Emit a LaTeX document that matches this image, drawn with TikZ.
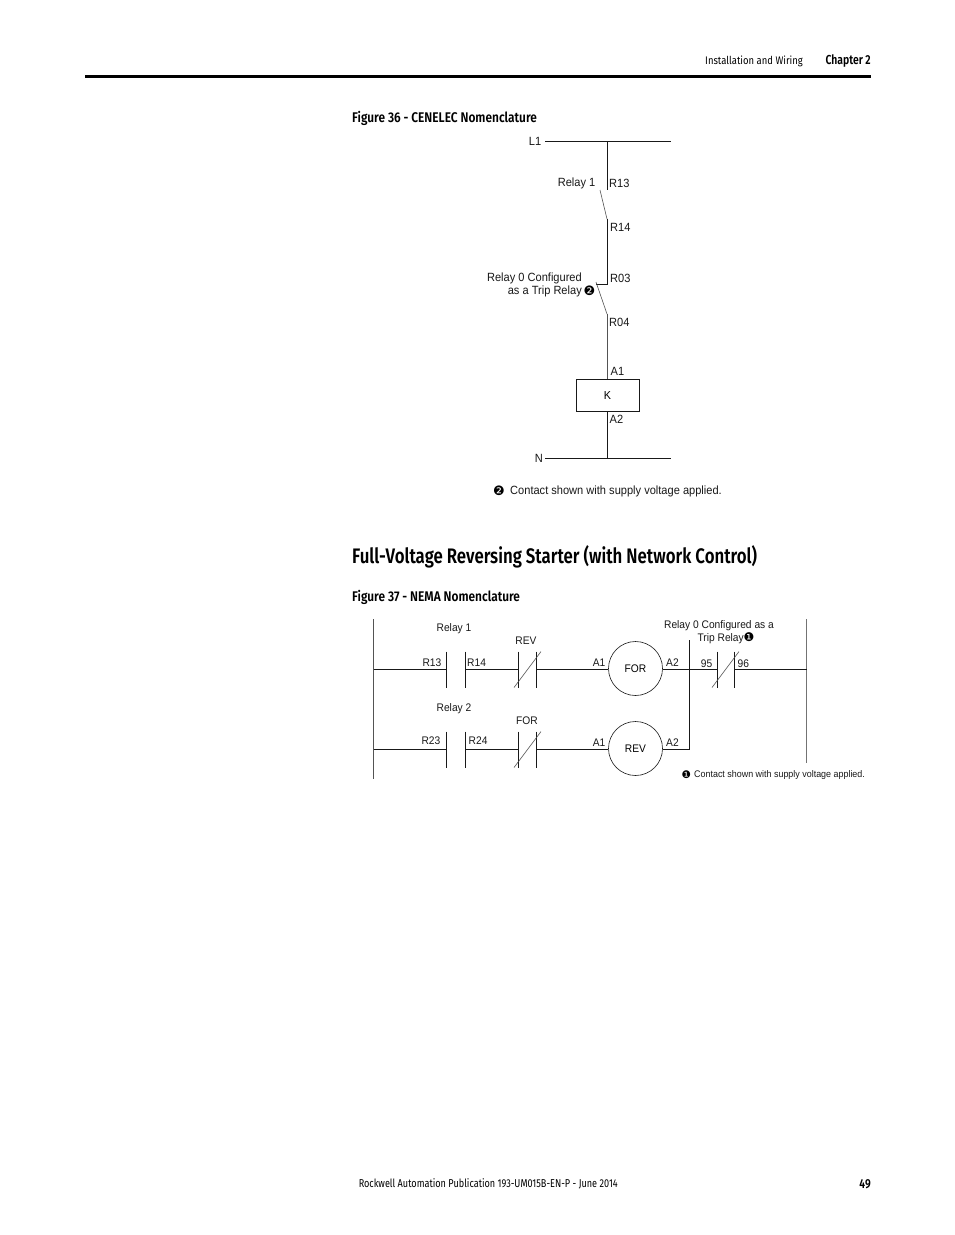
\documentclass[tikz,border=0pt]{standalone}
\usepackage{fontspec}
\setmainfont{Liberation Sans}
\newfontfamily\diagf[FakeStretch=0.93]{Liberation Sans}
\newfontfamily\headf[FakeStretch=0.86]{Fira Sans}
\newfontfamily\footf[FakeStretch=0.8]{Fira Sans}
\newfontfamily\headb[FakeStretch=0.8]{Fira Sans}[BoldFont={Fira Sans SemiBold}]
\newfontfamily\headc[FakeStretch=0.85]{Fira Sans}[BoldFont={Fira Sans SemiBold}]
\newfontfamily\symf{DejaVu Sans}
\definecolor{wire}{gray}{0.1}
\tikzset{
  x=1pt,y=-1pt,
  wireline/.style={draw=wire,line width=0.8pt},
  thinline/.style={draw=wire!75,line width=0.6pt},
  lab/.style={inner sep=0pt,font=\diagf\fontsize{11.9}{13}\selectfont,text=black!90},
  smalllab/.style={inner sep=0pt,font=\diagf\fontsize{11}{12}\selectfont,text=black!90},
  hdr/.style={inner sep=0pt,font=\headf\fontsize{11}{13}\selectfont,text=black},
  ftr/.style={inner sep=0pt,font=\footf\fontsize{11.4}{13}\selectfont,text=black},
  hdrb/.style={inner sep=0pt,font=\headb\fontsize{13}{15}\selectfont\bfseries,text=black},
  figt/.style={inner sep=0pt,font=\headc\fontsize{14}{16}\selectfont\bfseries,text=black},
  sect/.style={inner sep=0pt,font=\headb\fontsize{21}{24}\selectfont\bfseries,text=black},
  coil/.style={circle,draw=wire,line width=0.6pt,minimum size=54pt,inner sep=0pt,font=\diagf\fontsize{11}{13}\selectfont},
  kbox/.style={rectangle,draw=wire,line width=0.8pt,minimum width=63pt,minimum height=32pt,inner sep=0pt,font=\diagf\fontsize{11.6}{13}\selectfont},
  bigdot/.style={inner sep=0pt,font=\symf\fontsize{13}{14}\selectfont},
  middot/.style={inner sep=0pt,font=\symf\fontsize{12}{13}\selectfont},
  smdot/.style={inner sep=0pt,font=\symf\fontsize{10.5}{12}\selectfont}
}
\begin{document}
\begin{tikzpicture}
\useasboundingbox (0,0) rectangle (954,1235);
\fill[white] (0,0) rectangle (954,1235);
% page furniture
\coordinate (hl) at (85,76.5); \coordinate (hr) at (871,76.5);
\draw[black,line width=3pt] (hl) -- (hr);
\node[hdr,anchor=east] (h1) at (803,61) {Installation and Wiring};
\node[hdrb,anchor=east] (h2) at (871,61) {Chapter 2};
\node[ftr,anchor=east] (f1) at (618,1184) {Rockwell Automation Publication 193-UM015B-EN-P - June 2014};
\node[hdrb,anchor=east] (f2) at (871,1184) {49};
\node[figt,anchor=west] (t36) at (352,118) {Figure 36 - CENELEC Nomenclature};
\node[figt,anchor=west] (t37) at (352,597) {Figure 37 - NEMA Nomenclature};
\node[sect,anchor=west] (sec) at (352,557) {Full-Voltage Reversing Starter (with Network Control)};

% Figure 36
\coordinate (l1a) at (545,141); \coordinate (l1b) at (671,141); \coordinate (l1j) at (607,141);
\coordinate (r13) at (607,190); \coordinate (s1a) at (600,190); \coordinate (r14) at (607,219);
\coordinate (r03) at (607,284.5); \coordinate (r03b) at (596,284.5);
\coordinate (s0a) at (596,282); \coordinate (r04) at (607,314);
\node[kbox] (k) at (607.5,395.5) {K};
\coordinate (na) at (545,458.5); \coordinate (nb) at (671,458.5); \coordinate (nj) at (607,458.5);
\draw[wireline] (l1a) -- (l1b);
\draw[wireline] (l1j) -- (r13);
\draw[thinline] (s1a) -- (r14);
\draw[wireline] (r14) -- (r03) -- (r03b);
\draw[thinline] (s0a) -- (r04);
\draw[thinline] (r04) -- (r04 |- k.north);
\draw[wireline] (nj |- k.south) -- (nj);
\draw[wireline] (na) -- (nb);
\node[lab,anchor=east] (tl1) at (541.5,141.5) {L1};
\node[lab,anchor=east] (tn) at (543,458.5) {N};
\node[lab,anchor=east] (trel1) at (595.5,183.5) {Relay 1};
\node[lab,anchor=west] (tr13) at (609,183.5) {R13};
\node[lab,anchor=west] (tr14) at (610,227.5) {R14};
\node[lab,anchor=west] (tr03) at (610,278.5) {R03};
\node[lab,anchor=west] (tr04) at (609,322.5) {R04};
\node[lab,anchor=west] (ta1) at (610.5,371) {A1};
\node[lab,anchor=west] (ta2) at (609.5,419.5) {A2};
\node[lab,anchor=east] (trel0a) at (582,278.5) {Relay 0 Configured};
\node[lab,anchor=east] (trel0b) at (582,291.5) {as a Trip Relay};
\node[bigdot,anchor=west] (c2a) at (583.5,290.5) {❷};
\node[bigdot,anchor=west] (c2b) at (493,491) {❷};
\node[lab,anchor=west] (note36) at (510,491.5) {Contact shown with supply voltage applied.};

% Figure 37
\coordinate (ltop) at (373.5,619); \coordinate (lbot) at (373.5,779);
\coordinate (rtop) at (806.5,619); \coordinate (rbot) at (806.5,763);
\draw[thinline] (ltop) -- (lbot);
\draw[draw=black!55,line width=0.9pt] (rtop) -- (rbot);
\node[coil] (for) at (635.5,668.5) {FOR};
\node[coil] (rev) at (635.5,748.5) {REV};
% rung 1
\coordinate (r1l) at (373.5,669.5); \coordinate (c1a) at (446.5,669.5); \coordinate (c1b) at (465,669.5);
\coordinate (c2x) at (518,669.5); \coordinate (c2y) at (536.5,669.5);
\coordinate (j1) at (689.5,669.5); \coordinate (c3a) at (717,669.5); \coordinate (c3b) at (734,669.5); \coordinate (r1r) at (806.5,669.5);
% rung 2
\coordinate (r2l) at (373.5,749.5); \coordinate (d1a) at (446.5,749.5); \coordinate (d1b) at (465,749.5);
\coordinate (d2x) at (518,749.5); \coordinate (d2y) at (536.5,749.5);
\coordinate (j2) at (689.5,749.5); \coordinate (jtop) at (689.5,640);
\foreach \p in {c1a,c1b,c2x,c2y,c3a,c3b}{\draw[wireline] ([yshift=18pt]\p) -- ([yshift=-18pt]\p);}
\foreach \p in {d1a,d1b,d2x,d2y}{\draw[wireline] ([yshift=18pt]\p) -- ([yshift=-18pt]\p);}
\draw[wireline] (r1l) -- (c1a);
\draw[wireline] (c1b) -- (c2x);
\draw[wireline] (c2y) -- (for.west |- c2y);
\draw[wireline] (for.east |- j1) -- (j1) -- (c3a);
\draw[wireline] (c3b) -- (r1r);
\draw[wireline] (r2l) -- (d1a);
\draw[wireline] (d1b) -- (d2x);
\draw[wireline] (d2y) -- (rev.west |- d2y);
\draw[wireline] (rev.east |- j2) -- (j2) -- (jtop);
\draw[thinline] ([xshift=-4pt,yshift=-18pt]c2x) -- ([xshift=4.5pt,yshift=18pt]c2y);
\draw[thinline] ([xshift=-4pt,yshift=-18pt]d2x) -- ([xshift=4.5pt,yshift=18pt]d2y);
\draw[thinline] ([xshift=-5pt,yshift=-18pt]c3a) -- ([xshift=5pt,yshift=18pt]c3b);
\node[smalllab,anchor=center] (q1) at (454,628.5) {Relay 1};
\node[smalllab,anchor=center] (q2) at (454,708.5) {Relay 2};
\node[smalllab,anchor=center] (q3) at (526,641) {REV};
\node[smalllab,anchor=center] (q4) at (527,720.5) {FOR};
\node[smalllab,anchor=east] (q5) at (441.5,662.5) {R13};
\node[smalllab,anchor=west] (q6) at (467,662.5) {R14};
\node[smalllab,anchor=east] (q7) at (440.5,740.5) {R23};
\node[smalllab,anchor=west] (q8) at (468.5,740.5) {R24};
\node[smalllab,anchor=east] (q9) at (605.5,662.5) {A1};
\node[smalllab,anchor=east] (q10) at (605.5,742.5) {A1};
\node[smalllab,anchor=west] (q11) at (666,662.5) {A2};
\node[smalllab,anchor=west] (q12) at (666,742.5) {A2};
\node[smalllab,anchor=east] (q13) at (712.5,663.5) {95};
\node[smalllab,anchor=west] (q14) at (737.5,663.5) {96};
\node[smalllab,anchor=center] (q15) at (719,625.5) {Relay 0 Configured as a};
\node[smalllab,anchor=east] (q16) at (744,638.5) {Trip Relay};
\node[middot,anchor=west] (q17) at (743.5,637.5) {❶};
\node[smdot,anchor=west] (q18) at (681.5,774.5) {❶};
\node[inner sep=0pt,anchor=west,font=\diagf\fontsize{9.6}{10}\selectfont,text=black!90] (q19) at (694,775) {Contact shown with supply voltage applied.};
\end{tikzpicture}
\end{document}
